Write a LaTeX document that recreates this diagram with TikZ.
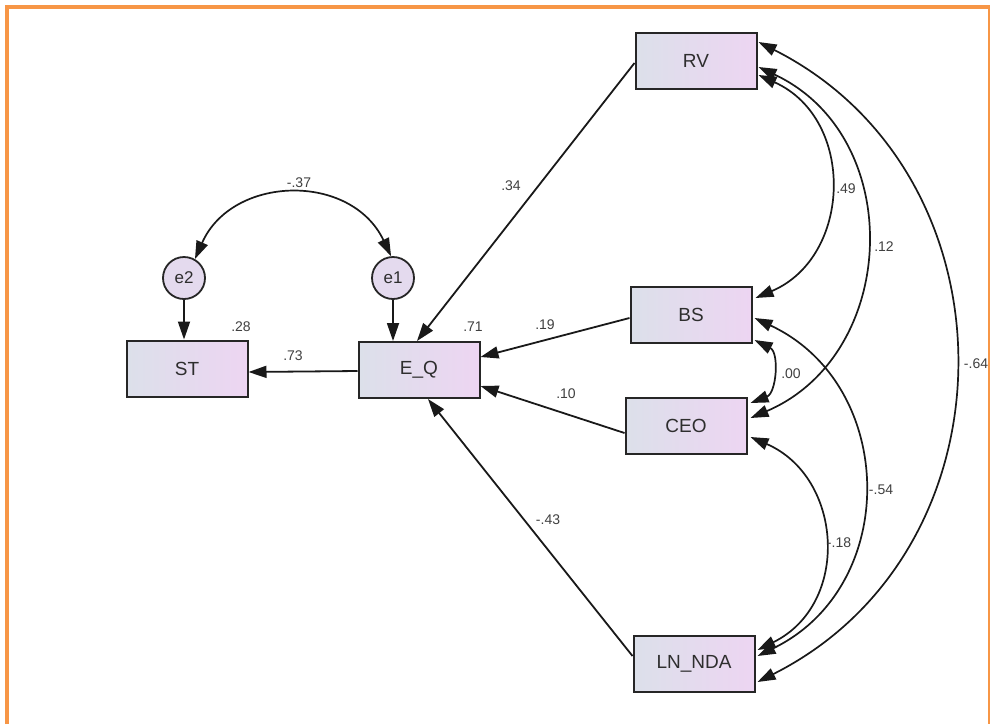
\documentclass[tikz,border=0pt]{standalone}
\usepackage{fontspec}
\setmainfont{Liberation Sans}
\usetikzlibrary{arrows.meta,calc}
\definecolor{frameor}{HTML}{F79646}
\definecolor{boxl}{HTML}{DCE0EA}
\definecolor{boxr}{HTML}{EDD5F2}
\definecolor{circf}{HTML}{E4DAEE}
\definecolor{txt}{HTML}{2E2E2E}
\tikzset{
  var/.style={draw=black!85,line width=2pt,minimum width=121pt,minimum height=56pt,
    left color=boxl,right color=boxr,font=\fontsize{19}{21}\selectfont,text=txt,inner sep=0pt},
  err/.style={circle,draw=black!85,line width=1.8pt,minimum size=42pt,fill=circf,
    font=\fontsize{17}{19}\selectfont,text=txt,inner sep=0pt},
  lab/.style={font=\fontsize{14}{16}\selectfont,text=black!75,inner sep=0pt},
  path/.style={line width=1.8pt,draw=black!90,-{Triangle[length=18pt,width=12pt]}},
  cov/.style={line width=1.7pt,draw=black!90,{Triangle[length=18pt,width=12pt]}-{Triangle[length=18pt,width=12pt]}}
}
\begin{document}
\begin{tikzpicture}[x=1pt,y=-1pt]
\useasboundingbox (0,0) rectangle (990,724);
\fill[white] (0,0) rectangle (990,724);
% frame
\draw[frameor,line width=4.5pt] (7,724) -- (7,7) -- (990,7);
\draw[frameor,line width=2pt] (989,7) -- (989,724);
% nodes
\node[var] (RV) at (696,61) {RV};
\node[var] (BS) at (691,315) {BS};
\node[var] (CEO) at (686,426) {CEO};
\node[var] (LN) at (694,664) {LN\_NDA};
\node[var] (EQ) at (419,370) {E\_Q};
\node[var] (ST) at (187,368.5) {ST};
\node[err] (e2) at (184,278) {e2};
\node[err] (e1) at (393,278) {e1};
% regression paths
\draw[path] ($(RV.west)+(0,2)$) -- ($(EQ.north)+(-2,0)$);
\draw[path] ($(BS.west)+(0,3)$) -- ($(EQ.east)+(0,-13)$);
\draw[path] ($(CEO.west)+(0,7)$) -- ($(EQ.east)+(0,16)$);
\draw[path] ($(LN.west)+(0,-8)$) -- ($(EQ.south)+(9,0)$);
\draw[path] ($(EQ.west)+(0,1)$) -- ($(ST.east)+(0,3.5)$);
\draw[path] (e1.south) -- (e1.south |- EQ.north);
\draw[path] (e2.south) -- (e2.south |- ST.north);
% covariances
\draw[cov] (e2.60) .. controls (232,175) and (351,172) .. (e1.95);
\draw[cov] ($(RV.east)+(1,14)$) .. controls (856,119) and (852,257) .. ($(BS.east)+(3,-17)$);
\draw[cov] ($(RV.east)+(1,6)$) .. controls (907.5,137) and (898.6,355) .. ($(CEO.east)+(3,-8)$);
\draw[cov] ($(RV.east)+(1,-19)$) .. controls (1020,174) and (1020,550) .. ($(LN.east)+(2,18)$);
\draw[cov] ($(BS.east)+(2,25)$) .. controls (779.5,352.6) and (776.5,393) .. ($(CEO.east)+(3,-23)$);
\draw[cov] ($(BS.east)+(2,3)$) .. controls (897,384.5) and (901,586) .. ($(LN.east)+(2,-8)$);
\draw[cov] ($(CEO.east)+(3,11)$) .. controls (843,477) and (851,604) .. ($(LN.east)+(2,-14)$);
% labels
\node[lab] (l28) at (241,327) {.28};
\node[lab] (l71) at (473,327) {.71};
\node[lab] (l73) at (293,356) {.73};
\node[lab] (l37) at (299,183) {-.37};
\node[lab] (l34) at (511,186) {.34};
\node[lab] (l19) at (545,325) {.19};
\node[lab] (l10) at (566,394) {.10};
\node[lab] (l43) at (548,520) {-.43};
\node[lab] (l49) at (846,189) {.49};
\node[lab] (l12) at (884,247) {.12};
\node[lab] (l00) at (791,374) {.00};
\node[lab] (l64) at (976,364) {-.64};
\node[lab] (l54) at (881,490) {-.54};
\node[lab] (l18) at (839,543) {-.18};
\end{tikzpicture}
\end{document}
